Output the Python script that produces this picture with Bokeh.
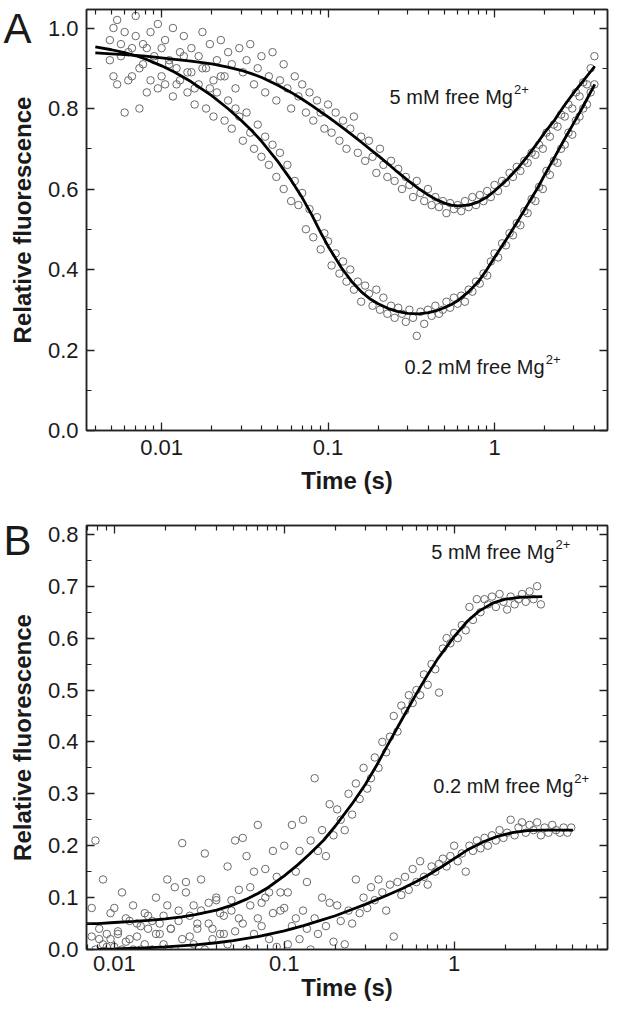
from bokeh.plotting import figure
from bokeh.models import (Range1d, LogAxis, LinearAxis, FixedTicker, NumeralTickFormatter,
                          Label, CustomJSTickFormatter)
from bokeh.layouts import column
from bokeh.embed import file_html
from bokeh.resources import INLINE

FONT = "Liberation Sans"
INK = "#1a1a1a"

# ---------------- Panel A data ----------------
a_t = [0.00489, 0.00514, 0.00541, 0.00570, 0.00600, 0.00631, 0.00664, 0.00699, 0.00736, 0.00774,
       0.00815, 0.00858, 0.00903, 0.00950,
       0.0100, 0.0105, 0.0111, 0.0117, 0.0123, 0.0129, 0.0136, 0.0143, 0.0151, 0.0158,
       0.0167, 0.0176, 0.0185, 0.0195, 0.0205, 0.0215, 0.0227, 0.0239, 0.0251, 0.0264,
       0.0278, 0.0293, 0.0308, 0.0324, 0.0341, 0.0359, 0.0378, 0.0398, 0.0419, 0.0441,
       0.0464, 0.0489, 0.0514, 0.0541, 0.0570, 0.0600, 0.0631, 0.0664, 0.0699, 0.0736,
       0.0774, 0.0815, 0.0858, 0.0903, 0.0950,
       0.100, 0.105, 0.111, 0.117, 0.123, 0.129, 0.136, 0.143, 0.151, 0.158,
       0.167, 0.176, 0.185, 0.195, 0.205, 0.215, 0.227, 0.239, 0.251, 0.264,
       0.278, 0.293, 0.308, 0.324, 0.341, 0.359, 0.378, 0.398, 0.419, 0.441,
       0.464, 0.489, 0.514, 0.541, 0.570, 0.600, 0.631, 0.664, 0.699, 0.736,
       0.774, 0.815, 0.858, 0.903, 0.950,
       1.00, 1.05, 1.11, 1.17, 1.23, 1.29, 1.36, 1.43, 1.51, 1.58,
       1.67, 1.76, 1.85, 1.95, 2.05, 2.15, 2.27, 2.39, 2.51, 2.64,
       2.78, 2.93, 3.08, 3.24, 3.41, 3.59, 3.78, 3.98]

a_5mM = [0.97, 0.88, 1.02, 0.93, 0.99, 0.87, 0.95, 1.03, 0.90, 0.96, 0.84, 0.99, 0.92, 1.01,
         0.88, 0.97, 0.91, 1.00, 0.86, 0.94, 0.98, 0.89, 0.95, 0.85,
         0.93, 0.99, 0.90, 0.96, 0.87, 0.92, 0.97, 0.88, 0.94, 0.91,
         0.85, 0.95, 0.89, 0.92, 0.96, 0.86, 0.90, 0.93, 0.84, 0.88,
         0.94, 0.82, 0.87, 0.91, 0.85, 0.80, 0.88, 0.83, 0.86, 0.79,
         0.84, 0.77, 0.82, 0.79, 0.75,
         0.81, 0.74, 0.79, 0.72, 0.77, 0.70, 0.75, 0.78, 0.69, 0.73,
         0.67, 0.72, 0.68, 0.64, 0.70, 0.66, 0.63, 0.67, 0.62, 0.65,
         0.60, 0.63, 0.61, 0.58, 0.62, 0.59, 0.57, 0.60, 0.56, 0.58,
         0.555, 0.57, 0.54, 0.565, 0.55, 0.56, 0.545, 0.57, 0.555, 0.58,
         0.56, 0.585, 0.57, 0.595, 0.58,
         0.61, 0.595, 0.62, 0.615, 0.64, 0.63, 0.655, 0.645, 0.67, 0.665,
         0.69, 0.685, 0.71, 0.70, 0.74, 0.73, 0.76, 0.755, 0.785, 0.78,
         0.81, 0.80, 0.84, 0.83, 0.865, 0.86, 0.90, 0.93]

a_02mM = [0.92, 1.00, 0.86, 0.96, 0.79, 0.94, 0.88, 0.98, 0.80, 0.91, 0.95, 0.87, 0.93, 0.85,
          0.95, 0.86, 0.92, 0.83, 0.90, 0.87, 0.93, 0.84, 0.89, 0.81,
          0.86, 0.90, 0.80, 0.85, 0.78, 0.84, 0.88, 0.77, 0.82, 0.75,
          0.80, 0.78, 0.72, 0.79, 0.74, 0.70, 0.76, 0.68, 0.73, 0.66,
          0.71, 0.63, 0.69, 0.60, 0.66, 0.57, 0.62, 0.56, 0.59, 0.50,
          0.55, 0.48, 0.53, 0.45, 0.49,
          0.47, 0.41, 0.44, 0.39, 0.42, 0.37, 0.40, 0.35, 0.37, 0.32,
          0.36, 0.34, 0.31, 0.35, 0.30, 0.33, 0.29, 0.31, 0.28, 0.305,
          0.29, 0.27, 0.30, 0.28, 0.235, 0.295, 0.265, 0.30, 0.285, 0.31,
          0.29, 0.30, 0.32, 0.305, 0.33, 0.315, 0.335, 0.32, 0.35, 0.345,
          0.37, 0.365, 0.39, 0.385, 0.42,
          0.44, 0.43, 0.465, 0.46, 0.49, 0.485, 0.515, 0.51, 0.545, 0.54,
          0.575, 0.57, 0.605, 0.60, 0.645, 0.635, 0.67, 0.665, 0.70, 0.71,
          0.74, 0.735, 0.77, 0.78, 0.80, 0.81, 0.84, 0.86]

a_fit_t = [0.004, 0.005, 0.006, 0.007, 0.008, 0.01, 0.012, 0.015, 0.02, 0.025,
           0.03, 0.035, 0.04, 0.05, 0.06, 0.07, 0.08, 0.09, 0.1, 0.12,
           0.14, 0.16, 0.18, 0.2, 0.23, 0.26, 0.3, 0.35, 0.4, 0.45,
           0.5, 0.55, 0.6, 0.7, 0.8, 0.9, 1.0, 1.2, 1.4, 1.6,
           1.8, 2.0, 2.3, 2.6, 3.0, 3.4, 4.0]
a_fit_5mM = [0.938, 0.936, 0.934, 0.932, 0.930, 0.926, 0.922, 0.918, 0.911, 0.903,
             0.895, 0.886, 0.877, 0.858, 0.840, 0.823, 0.807, 0.792, 0.779, 0.755,
             0.734, 0.715, 0.698, 0.683, 0.662, 0.643, 0.622, 0.601, 0.585, 0.573,
             0.565, 0.560, 0.558, 0.560, 0.568, 0.580, 0.595, 0.625, 0.655, 0.685,
             0.713, 0.740, 0.772, 0.805, 0.840, 0.868, 0.905]
a_fit_02mM = [0.953, 0.946, 0.939, 0.931, 0.923, 0.906, 0.890, 0.867, 0.832, 0.800,
              0.771, 0.744, 0.718, 0.668, 0.622, 0.578, 0.535, 0.493, 0.458, 0.405,
              0.368, 0.343, 0.326, 0.315, 0.303, 0.296, 0.291, 0.290, 0.293, 0.298,
              0.305, 0.313, 0.322, 0.345, 0.370, 0.400, 0.430, 0.480, 0.525, 0.565,
              0.600, 0.635, 0.680, 0.720, 0.765, 0.805, 0.860]

# ---------------- Panel B data ----------------
b_t = [0.00736, 0.00774, 0.00815, 0.00858, 0.00903, 0.00950,
       0.0100, 0.0105, 0.0111, 0.0117, 0.0123, 0.0129, 0.0136, 0.0143, 0.0151, 0.0158,
       0.0167, 0.0176, 0.0185, 0.0195, 0.0205, 0.0215, 0.0227, 0.0239, 0.0251, 0.0264,
       0.0278, 0.0293, 0.0308, 0.0324, 0.0341, 0.0359, 0.0378, 0.0398, 0.0419, 0.0441,
       0.0464, 0.0489, 0.0514, 0.0541, 0.0570, 0.0600, 0.0631, 0.0664, 0.0699, 0.0736,
       0.0774, 0.0815, 0.0858, 0.0903, 0.0950,
       0.100, 0.105, 0.111, 0.117, 0.123, 0.129, 0.136, 0.143, 0.151, 0.158,
       0.167, 0.176, 0.185, 0.195, 0.205, 0.215, 0.227, 0.239, 0.251, 0.264,
       0.278, 0.293, 0.308, 0.324, 0.341, 0.359, 0.378, 0.398, 0.419, 0.441,
       0.464, 0.489, 0.514, 0.541, 0.570, 0.600, 0.631, 0.664, 0.699, 0.736,
       0.774, 0.815, 0.858, 0.903, 0.950,
       1.00, 1.05, 1.11, 1.17, 1.23, 1.29, 1.36, 1.43, 1.51, 1.58,
       1.67, 1.76, 1.85, 1.95, 2.05, 2.15, 2.27, 2.39, 2.51, 2.64,
       2.78, 2.93, 3.08, 3.24, 3.41, 3.59, 3.78, 3.98, 4.19, 4.41,
       4.64, 4.89]

b_5mM = [0.08, 0.21, 0.02, 0.135, 0.03, 0.07,
         0.08, 0.03, 0.11, 0.06, 0.02, 0.085, 0.05, 0.00, 0.07, 0.04,
         0.055, 0.10, 0.03, 0.065, 0.135, 0.04, 0.12, 0.075, 0.205, 0.11,
         0.025, 0.085, 0.05, 0.135, 0.185, 0.09, 0.04, 0.10, 0.07, 0.03,
         0.16, 0.095, 0.21, 0.06, 0.215, 0.18, 0.12, 0.15, 0.24, 0.09,
         0.155, 0.11, 0.19, 0.14, 0.075,
         0.20, 0.11, 0.24, 0.15, 0.19, 0.25, 0.13, 0.21, 0.33, 0.19,
         0.23, 0.18, 0.28, 0.22, 0.27, 0.25, 0.23, 0.30, 0.26, 0.32,
         0.29, 0.35, 0.31, 0.33, 0.37, 0.35, 0.40, 0.38, 0.41, 0.45,
         0.42, 0.47, 0.46, 0.49, 0.475, 0.50, 0.49, 0.53, 0.51, 0.55,
         0.54, 0.495, 0.58, 0.60, 0.59,
         0.61, 0.60, 0.625, 0.615, 0.66, 0.635, 0.675, 0.65, 0.675, 0.665,
         0.68, 0.66, 0.685, 0.67, 0.655, 0.68, 0.665, 0.675, 0.685, 0.67,
         0.69, 0.675, 0.70, 0.665]

b_02mM = [0.025, 0.0, 0.04, 0.01, 0.005, 0.02,
          0.005, 0.035, 0.0, 0.015, 0.055, 0.0, 0.025, 0.045, 0.01, 0.065,
          0.0, 0.03, 0.05, 0.01, 0.085, 0.04, 0.0, 0.055, 0.02, 0.13,
          0.065, 0.01, 0.04, 0.075, 0.0, 0.05, 0.02, 0.095, 0.03, 0.065,
          0.01, 0.075, 0.035, 0.115, 0.05, 0.0, 0.085, 0.03, 0.06, 0.045,
          0.10, 0.02, 0.07, 0.005, 0.11,
          0.08, 0.01, 0.045, 0.06, 0.02, 0.075, 0.04, 0.0, 0.06, 0.03,
          0.10, 0.045, 0.09, 0.015, 0.085, 0.055, 0.01, 0.075, 0.05, 0.135,
          0.07, 0.10, 0.08, 0.12, 0.095, 0.135, 0.11, 0.075, 0.125, 0.025,
          0.13, 0.105, 0.14, 0.115, 0.155, 0.13, 0.17, 0.14, 0.125, 0.16,
          0.15, 0.165, 0.175, 0.16, 0.18,
          0.20, 0.17, 0.185, 0.15, 0.20, 0.19, 0.21, 0.195, 0.215, 0.20,
          0.22, 0.21, 0.23, 0.215, 0.225, 0.25, 0.22, 0.235, 0.245, 0.225,
          0.24, 0.23, 0.245, 0.22, 0.235, 0.225, 0.24, 0.23, 0.225, 0.235,
          0.225, 0.235]

b_fit5_t = [0.0069, 0.008, 0.01, 0.013, 0.016, 0.02, 0.025, 0.03, 0.04, 0.05,
            0.06, 0.07, 0.08, 0.1, 0.12, 0.14, 0.17, 0.2, 0.25, 0.3,
            0.35, 0.4, 0.5, 0.6, 0.7, 0.8, 1.0, 1.2, 1.4, 1.7,
            2.0, 2.5, 3.3]
b_fit_5mM = [0.050, 0.050, 0.052, 0.054, 0.056, 0.059, 0.063, 0.067, 0.076, 0.086,
             0.097, 0.108, 0.119, 0.142, 0.163, 0.183, 0.210, 0.238, 0.280, 0.318,
             0.355, 0.390, 0.447, 0.493, 0.530, 0.560, 0.603, 0.633, 0.652, 0.668,
             0.675, 0.679, 0.680]
b_fit02_t = [0.008, 0.01, 0.015, 0.02, 0.03, 0.04, 0.05, 0.07, 0.1, 0.13,
             0.16, 0.2, 0.25, 0.3, 0.4, 0.5, 0.6, 0.7, 0.85, 1.0,
             1.2, 1.5, 1.8, 2.2, 2.7, 3.3, 4.0, 5.0]
b_fit_02mM = [0.000, 0.001, 0.003, 0.005, 0.009, 0.013, 0.017, 0.025, 0.036, 0.046,
              0.055, 0.065, 0.077, 0.087, 0.104, 0.118, 0.131, 0.143, 0.160, 0.175,
              0.192, 0.208, 0.218, 0.225, 0.229, 0.230, 0.230, 0.230]

# ---------------- ticks ----------------
x_major = [0.01, 0.1, 1]
a_x_minor = [0.004, 0.005, 0.006, 0.007, 0.008, 0.009,
             0.02, 0.03, 0.04, 0.05, 0.06, 0.07, 0.08, 0.09,
             0.2, 0.3, 0.4, 0.5, 0.6, 0.7, 0.8, 0.9, 2, 3, 4]
b_x_minor = [0.007, 0.008, 0.009,
             0.02, 0.03, 0.04, 0.05, 0.06, 0.07, 0.08, 0.09,
             0.2, 0.3, 0.4, 0.5, 0.6, 0.7, 0.8, 0.9, 2, 3, 4, 5, 6, 7]
a_y_major = [0.0, 0.2, 0.4, 0.6, 0.8, 1.0]
a_y_minor = [0.1, 0.3, 0.5, 0.7, 0.9]
b_y_major = [0.0, 0.1, 0.2, 0.3, 0.4, 0.5, 0.6, 0.7, 0.8]
b_y_minor = [0.05, 0.15, 0.25, 0.35, 0.45, 0.55, 0.65, 0.75]

label_5 = "5 mM free Mg"
label_02 = "0.2 mM free Mg"
sup = "2+"


def style_axis(ax, show_labels):
    ax.axis_line_color = "#222222"
    ax.axis_line_width = 1.5
    ax.major_tick_line_color = "#222222"
    ax.minor_tick_line_color = "#222222"
    ax.major_tick_line_width = 1.3
    ax.minor_tick_line_width = 1.2
    ax.major_tick_in = 8
    ax.major_tick_out = 0
    ax.minor_tick_in = 5
    ax.minor_tick_out = 0
    if show_labels:
        ax.major_label_text_font = FONT
        ax.major_label_text_font_size = "22px"
        ax.major_label_text_color = INK
        ax.axis_label_text_font = FONT
        ax.axis_label_text_font_size = "24px"
        ax.axis_label_text_font_style = "bold"
        ax.axis_label_text_color = INK
    else:
        ax.major_label_text_font_size = "1px"
        ax.major_label_text_alpha = 0.0
        ax.major_label_standoff = 0


def make_panel(width, height, borders, xr, yr, xmaj, xmin, ymaj, ymin, yfmt,
               x_std, xl_std):
    left, right, top, bottom = borders
    p = figure(width=width, height=height, x_axis_type="log",
               x_range=Range1d(*xr), y_range=Range1d(*yr),
               output_backend="svg", toolbar_location=None,
               min_border_left=left, min_border_right=right,
               min_border_top=top, min_border_bottom=bottom)
    p.grid.visible = False
    p.outline_line_color = "#222222"
    p.outline_line_width = 1.5
    p.background_fill_color = "white"
    p.border_fill_color = "white"

    xa = p.xaxis[0]
    xa.ticker = FixedTicker(ticks=xmaj, minor_ticks=xmin)
    xa.formatter = NumeralTickFormatter(format="0.[00]")
    xa.axis_label = "Time (s)"
    style_axis(xa, True)
    xa.major_label_standoff = x_std
    xa.axis_label_standoff = xl_std

    ya = p.yaxis[0]
    ya.ticker = FixedTicker(ticks=ymaj, minor_ticks=ymin)
    ya.formatter = NumeralTickFormatter(format=yfmt)
    ya.axis_label = "Relative fluorescence"
    style_axis(ya, True)
    ya.major_label_standoff = 8
    ya.axis_label_standoff = 9

    top_ax = LogAxis(ticker=FixedTicker(ticks=xmaj, minor_ticks=xmin),
                     formatter=NumeralTickFormatter(format="0.[00]"))
    style_axis(top_ax, False)
    p.add_layout(top_ax, "above")
    right_ax = LinearAxis(ticker=FixedTicker(ticks=ymaj, minor_ticks=ymin),
                          formatter=NumeralTickFormatter(format=yfmt))
    style_axis(right_ax, False)
    p.add_layout(right_ax, "right")
    return p


def add_points(p, t, y):
    p.scatter(t, y, marker="circle", size=7.5, fill_color=None,
              line_color="#6a6a6a", line_width=1.0)


def add_note(p, x, y, text):
    p.add_layout(Label(x=x, y=y, text=text, text_align="right", text_baseline="alphabetic",
                       text_font=FONT, text_font_size="20px", text_color=INK))
    p.add_layout(Label(x=x, y=y, text=sup, text_align="left", text_baseline="alphabetic",
                       x_offset=1, y_offset=7,
                       text_font=FONT, text_font_size="13px", text_color=INK))


def add_letter(p, yval, text, standoff):
    # panel letter drawn as the single tick label of an outer, invisible left axis
    ax = LinearAxis(ticker=FixedTicker(ticks=[yval], minor_ticks=[]),
                    formatter=CustomJSTickFormatter(code="return '%s'" % text))
    ax.axis_line_color = None
    ax.major_tick_line_color = None
    ax.minor_tick_line_color = None
    ax.major_tick_in = 0
    ax.major_tick_out = 0
    ax.minor_tick_in = 0
    ax.minor_tick_out = 0
    ax.major_label_standoff = standoff
    ax.major_label_text_font = FONT
    ax.major_label_text_font_size = "42px"
    ax.major_label_text_color = INK
    p.add_layout(ax, "left")


# ---------------- Panel A ----------------
a_xr = (0.00354, 4.77)
a_yr = (0.0, 1.046)
pA = make_panel(611, 510, (84, 4, 9, 80), a_xr, a_yr, x_major, a_x_minor,
                a_y_major, a_y_minor, "0.0", 9, 9)
add_points(pA, a_t, a_5mM)
add_points(pA, a_t, a_02mM)
pA.line(a_fit_t, a_fit_5mM, line_color="black", line_width=2.8)
pA.line(a_fit_t, a_fit_02mM, line_color="black", line_width=2.8)
add_note(pA, 1.29, 0.829, label_5)
add_note(pA, 2.0, 0.158, label_02)
add_letter(pA, 0.999, "A", -26)

# ---------------- Panel B ----------------
b_xr = (0.00686, 7.99)
b_yr = (0.0, 0.817)
pB = make_panel(611, 494, (83, 4, 15, 55), b_xr, b_yr, x_major, b_x_minor,
                b_y_major, b_y_minor, "0.0", 6, 0)
add_points(pB, b_t[:len(b_5mM)], b_5mM)
add_points(pB, b_t, b_02mM)
pB.line(b_fit5_t, b_fit_5mM, line_color="black", line_width=2.8)
pB.line(b_fit02_t, b_fit_02mM, line_color="black", line_width=2.8)
add_note(pB, 3.9, 0.766, label_5)
add_note(pB, 5.03, 0.316, label_02)
add_letter(pB, 0.789, "B", -26)

layout = column(pA, pB)
open("out.html", "w").write(file_html(layout, INLINE))
